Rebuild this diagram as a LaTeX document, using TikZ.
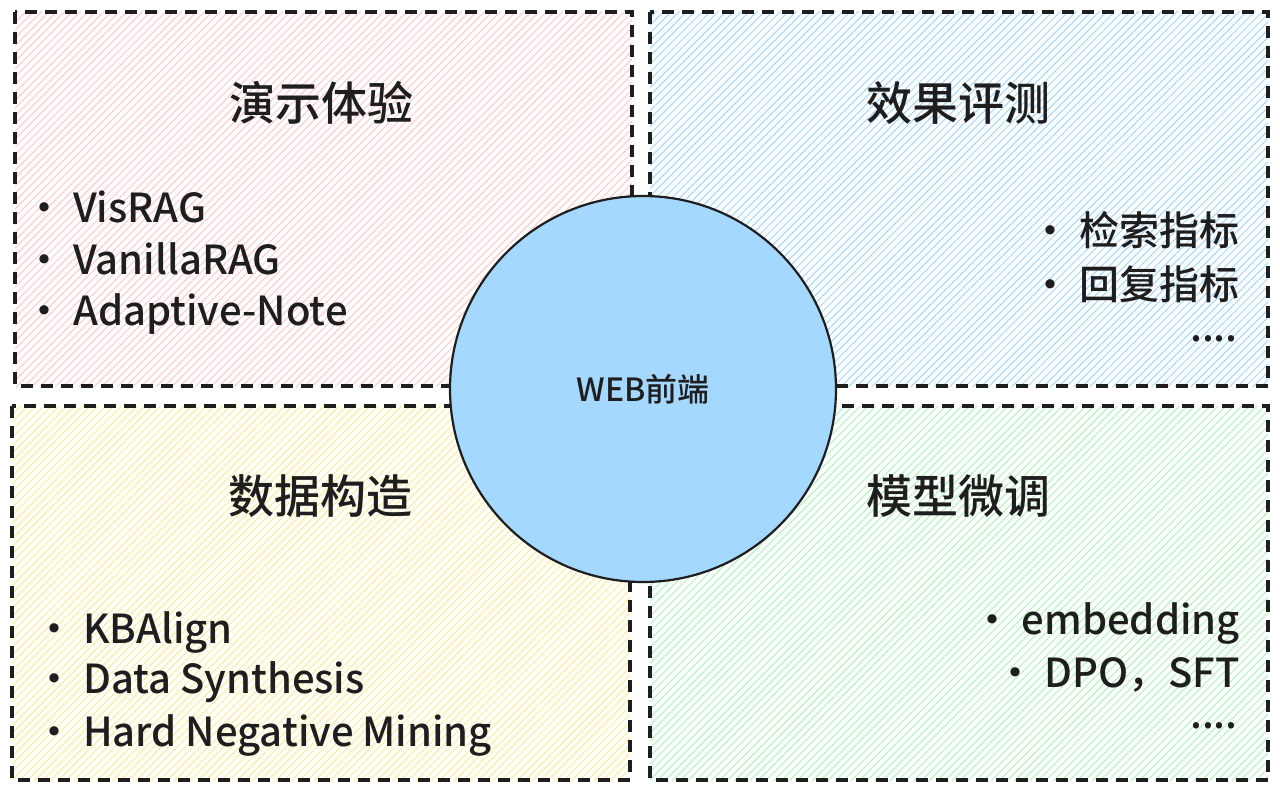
\documentclass[tikz,border=0pt]{standalone}
\usepackage{fontspec}
\setmainfont{Noto Sans CJK SC}[UprightFont={* Medium}]
\usetikzlibrary{patterns.meta}
\definecolor{pinkH}{HTML}{FFC9C9}
\definecolor{blueH}{HTML}{A5D8FF}
\definecolor{yellowH}{HTML}{FFEC99}
\definecolor{greenH}{HTML}{B2F2BB}
\definecolor{ink}{HTML}{1E1E1E}
\tikzset{
  panel/.style={draw=ink, line width=3.4pt, dash pattern=on 12pt off 8pt,
    pattern={Lines[angle=45,distance=5.5pt,line width=1pt]}},
  title/.style={font=\fontsize{46}{52}\selectfont, text=ink},
  item/.style={font=\fontsize{40}{46}\selectfont, text=ink, inner sep=0pt},
  dots/.style={font=\fontsize{40}{46}\selectfont, text=ink, inner sep=0pt,
    text height=6pt, text depth=0pt, anchor=base east},
}
\begin{document}
\begin{tikzpicture}[x=1pt,y=-1pt]
\useasboundingbox[fill=white] (0,0) rectangle (1280,792);
\draw[panel, pattern color=pinkH] (15,12) rectangle (632,386);
\draw[panel, pattern color=blueH] (650,12) rectangle (1268,386);
\draw[panel, pattern color=yellowH] (12,406) rectangle (630,780);
\draw[panel, pattern color=greenH] (650,406) rectangle (1268,780);
\node[circle, draw=ink, line width=2.2pt, fill=blueH, minimum size=386pt, inner sep=0pt] (web) at (643,389) {};
\node[font=\fontsize{32}{36}\selectfont, text=ink] (webt) at (web.center) {WEB前端};

\node[title] (t1) at (321,103) {演示体验};
\node[title] (t2) at (958,103) {效果评测};
\node[title] (t3) at (320,496) {数据构造};
\node[title] (t4) at (958,496) {模型微调};

\node[item, anchor=west] (a1) at (24,207) {· VisRAG};
\node[item, anchor=west] (a2) at (24,259) {· VanillaRAG};
\node[item, anchor=west] (a3) at (24,314) {· Adaptive-Note};

\node[item, anchor=east] (b1) at (1240,230) {· 检索指标};
\node[item, anchor=east] (b2) at (1240,284) {· 回复指标};
\node[dots] (b3) at (1238,341) {....};

\node[item, anchor=west] (c1) at (34,632) {· KBAlign};
\node[item, anchor=west] (c2) at (34,682) {· Data Synthesis};
\node[item, anchor=west] (c3) at (34,735) {· Hard Negative Mining};

\node[item, anchor=east] (d1) at (1240,623) {· embedding};
\node[item, anchor=east] (d2) at (1240,675) {· DPO，SFT};
\node[dots] (d3) at (1238,728) {....};
\end{tikzpicture}
\end{document}
